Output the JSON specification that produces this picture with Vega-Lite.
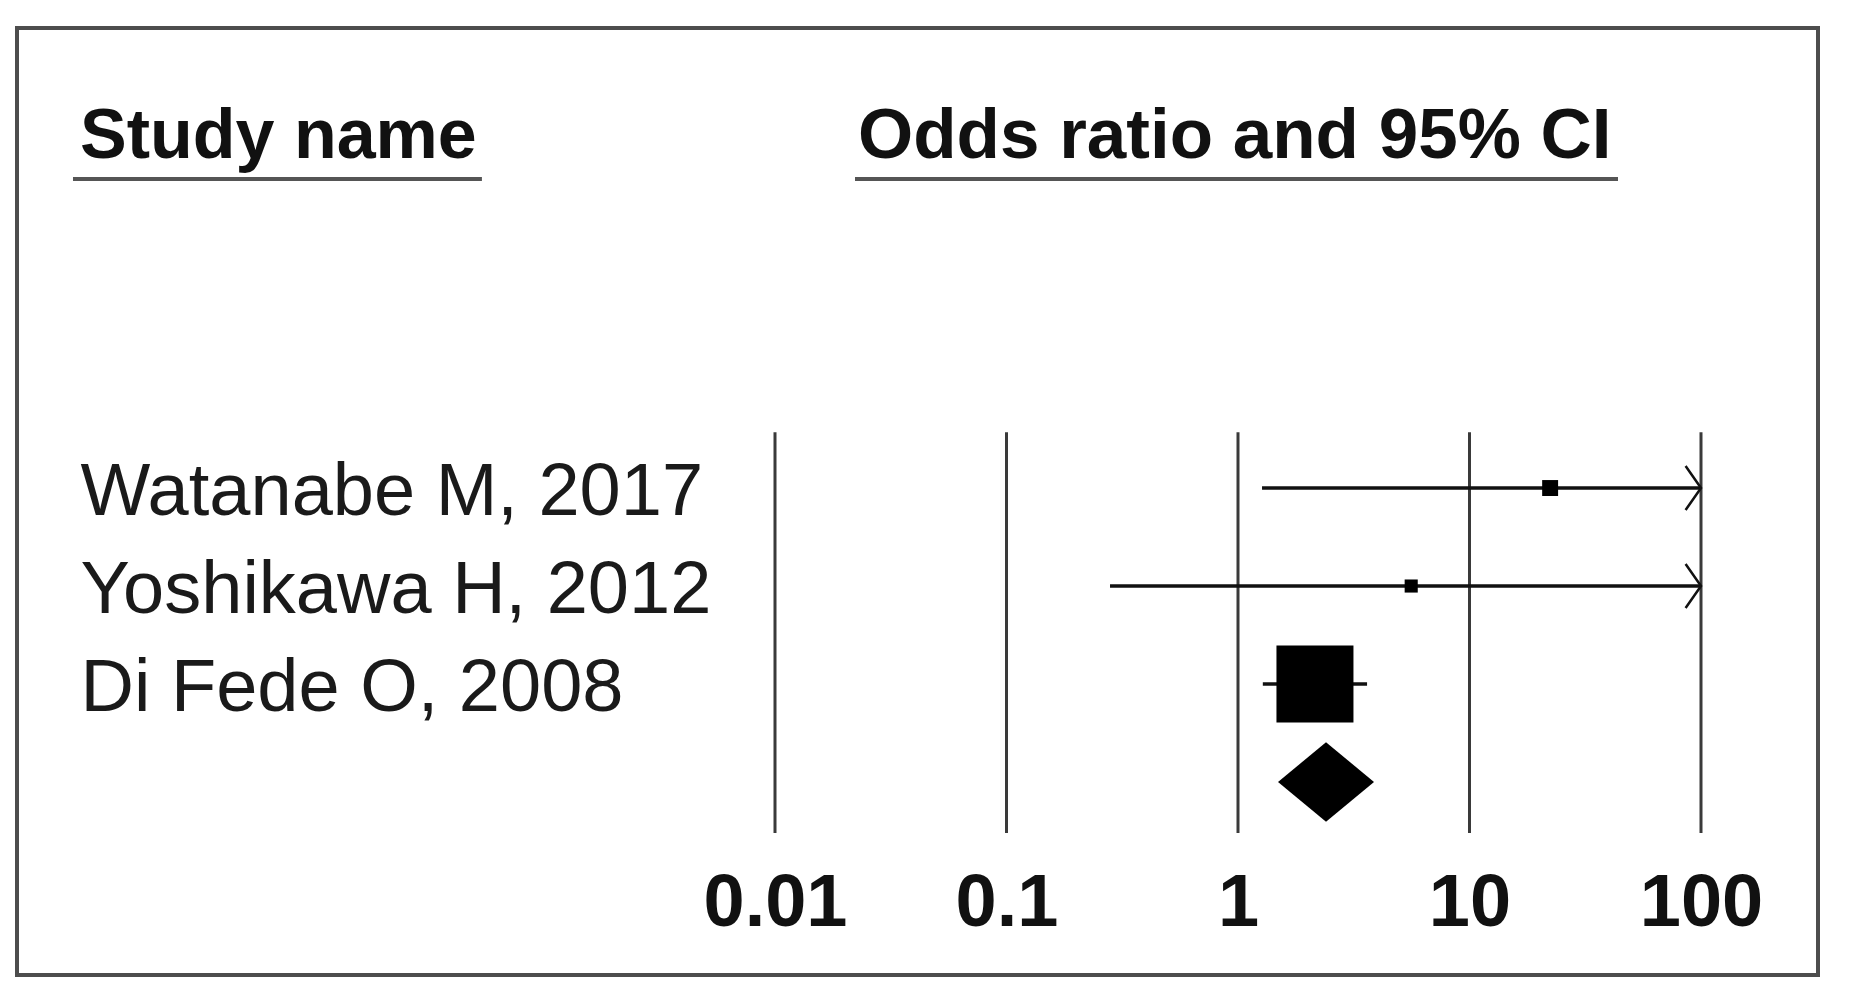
{
  "$schema": "https://vega.github.io/schema/vega-lite/v6.json",
  "width": 1801,
  "height": 947,
  "autosize": {"type": "none"},
  "padding": {"left": 17, "top": 28, "right": 35, "bottom": 22},
  "background": "white",
  "config": {
    "view": {"stroke": "#4d4d4d", "strokeWidth": 4},
    "font": "Liberation Sans"
  },
  "datasets": {
    "ticks": [{"v": 0.01}, {"v": 0.1}, {"v": 1}, {"v": 10}, {"v": 100}],
    "studies": [
      {"study": "Watanabe M, 2017", "row": 1, "or": 22.3, "lower": 1.27, "upper": 100, "weight": 4.0, "truncated": true},
      {"study": "Yoshikawa H, 2012", "row": 2, "or": 5.6, "lower": 0.28, "upper": 100, "weight": 2.7, "truncated": true},
      {"study": "Di Fede O, 2008", "row": 3, "or": 2.15, "lower": 1.28, "upper": 3.61, "weight": 93.3, "truncated": false}
    ],
    "summary": [
      {"row": 4, "or": 2.4, "lower": 1.49, "upper": 3.87}
    ],
    "one": [{}]
  },
  "layer": [
    {
      "data": {"name": "ticks"},
      "mark": {"type": "rule", "stroke": "#3a3a3a", "strokeWidth": 3},
      "encoding": {
        "x": {
          "field": "v", "type": "quantitative",
          "scale": {"type": "log", "domain": [5.317e-6, 320.2], "nice": false},
          "axis": {
            "values": [0.01, 0.1, 1, 10, 100],
            "format": "~g",
            "domain": false, "ticks": false, "tickSize": 0, "grid": false,
            "title": null,
            "labelFont": "Liberation Sans", "labelFontWeight": "bold", "labelFontSize": 74,
            "labelColor": "#111111", "labelPadding": -50, "labelBaseline": "alphabetic",
            "labelFlush": false, "labelOverlap": false
          }
        },
        "y": {"datum": 0.43, "type": "quantitative", "scale": {"domain": [-3.694, 5.969], "reverse": true, "nice": false, "zero": false}, "axis": null},
        "y2": {"datum": 4.52}
      }
    },
    {
      "data": {"name": "studies"},
      "mark": {"type": "rule", "stroke": "#111111", "strokeWidth": 3.5},
      "encoding": {
        "x": {"field": "lower", "type": "quantitative", "scale": {"type": "log", "domain": [5.317e-6, 320.2], "nice": false}},
        "x2": {"field": "upper"},
        "y": {"field": "row", "type": "quantitative", "scale": {"domain": [-3.694, 5.969], "reverse": true, "nice": false, "zero": false}, "axis": null}
      }
    },
    {
      "data": {"name": "studies"},
      "transform": [{"filter": "datum.truncated"}],
      "mark": {"type": "point", "shape": "M-0.7,-1L0,0L-0.7,1", "filled": false, "stroke": "#111111", "strokeWidth": 2.5, "size": 1936, "opacity": 1},
      "encoding": {
        "x": {"field": "upper", "type": "quantitative", "scale": {"type": "log", "domain": [5.317e-6, 320.2], "nice": false}},
        "y": {"field": "row", "type": "quantitative", "scale": {"domain": [-3.694, 5.969], "reverse": true, "nice": false, "zero": false}, "axis": null}
      }
    },
    {
      "data": {"name": "studies"},
      "mark": {"type": "point", "shape": "square", "filled": true, "color": "#000000", "opacity": 1},
      "encoding": {
        "x": {"field": "or", "type": "quantitative", "scale": {"type": "log", "domain": [5.317e-6, 320.2], "nice": false}},
        "y": {"field": "row", "type": "quantitative", "scale": {"domain": [-3.694, 5.969], "reverse": true, "nice": false, "zero": false}, "axis": null},
        "size": {"field": "weight", "type": "quantitative", "scale": {"type": "linear", "domain": [0, 100], "range": [0, 6355]}, "legend": null}
      }
    },
    {
      "data": {"name": "summary"},
      "mark": {"type": "point", "shape": "M-1,0L0,-0.83L1,0L0,0.83Z", "filled": true, "color": "#000000", "size": 9216, "opacity": 1},
      "encoding": {
        "x": {"field": "or", "type": "quantitative", "scale": {"type": "log", "domain": [5.317e-6, 320.2], "nice": false}},
        "y": {"field": "row", "type": "quantitative", "scale": {"domain": [-3.694, 5.969], "reverse": true, "nice": false, "zero": false}, "axis": null}
      }
    },
    {
      "data": {"name": "studies"},
      "mark": {"type": "text", "align": "left", "baseline": "middle", "dy": 5, "font": "Liberation Sans", "fontSize": 74, "color": "#1a1a1a"},
      "encoding": {
        "x": {"datum": 1e-5, "type": "quantitative", "scale": {"type": "log", "domain": [5.317e-6, 320.2], "nice": false}},
        "y": {"field": "row", "type": "quantitative", "scale": {"domain": [-3.694, 5.969], "reverse": true, "nice": false, "zero": false}, "axis": null},
        "text": {"field": "study"}
      }
    },
    {
      "data": {"name": "one"},
      "mark": {"type": "text", "text": "Study name", "align": "left", "baseline": "alphabetic", "font": "Liberation Sans", "fontWeight": "bold", "fontSize": 70, "color": "#111111"},
      "encoding": {
        "x": {"datum": 9.95e-6, "type": "quantitative", "scale": {"type": "log", "domain": [5.317e-6, 320.2], "nice": false}},
        "y": {"datum": -2.367, "type": "quantitative", "scale": {"domain": [-3.694, 5.969], "reverse": true, "nice": false, "zero": false}, "axis": null}
      }
    },
    {
      "data": {"name": "one"},
      "mark": {"type": "text", "text": "Odds ratio and 95% CI", "align": "left", "baseline": "alphabetic", "font": "Liberation Sans", "fontWeight": "bold", "fontSize": 71, "color": "#111111"},
      "encoding": {
        "x": {"datum": 0.02283, "type": "quantitative", "scale": {"type": "log", "domain": [5.317e-6, 320.2], "nice": false}},
        "y": {"datum": -2.367, "type": "quantitative", "scale": {"domain": [-3.694, 5.969], "reverse": true, "nice": false, "zero": false}, "axis": null}
      }
    },
    {
      "data": {"name": "one"},
      "mark": {"type": "rule", "stroke": "#555555", "strokeWidth": 4},
      "encoding": {
        "x": {"datum": 9.28e-6, "type": "quantitative", "scale": {"type": "log", "domain": [5.317e-6, 320.2], "nice": false}},
        "x2": {"datum": 5.42e-4},
        "y": {"datum": -2.153, "type": "quantitative", "scale": {"domain": [-3.694, 5.969], "reverse": true, "nice": false, "zero": false}, "axis": null}
      }
    },
    {
      "data": {"name": "one"},
      "mark": {"type": "rule", "stroke": "#555555", "strokeWidth": 4},
      "encoding": {
        "x": {"datum": 0.02216, "type": "quantitative", "scale": {"type": "log", "domain": [5.317e-6, 320.2], "nice": false}},
        "x2": {"datum": 43.8},
        "y": {"datum": -2.153, "type": "quantitative", "scale": {"domain": [-3.694, 5.969], "reverse": true, "nice": false, "zero": false}, "axis": null}
      }
    }
  ]
}
